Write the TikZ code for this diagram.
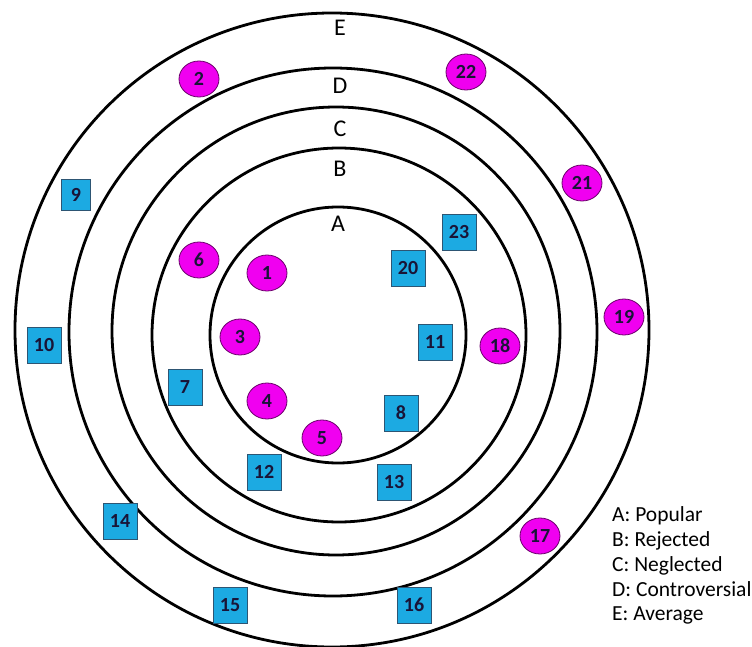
\documentclass[tikz,border=0pt]{standalone}
\usepackage{fontspec}
\setmainfont{Carlito}
\usetikzlibrary{shapes.geometric}
\definecolor{boxblue}{RGB}{28,170,226}
\definecolor{boxedge}{RGB}{45,85,115}
\definecolor{dotmag}{RGB}{240,0,240}
\definecolor{dotedge}{RGB}{105,0,105}
\definecolor{numcol}{RGB}{25,20,55}
\tikzset{
  ring/.style={circle, draw=black, line width=2.8pt, inner sep=0pt, outer sep=0pt},
  ringlabel/.style={anchor=base, font=\fontsize{24}{28}\selectfont, inner sep=0pt},
  legendtext/.style={anchor=base west, font=\fontsize{21.5}{25}\selectfont, inner sep=0pt},
  sqbox/.style={rectangle, draw=boxedge, line width=0.8pt, fill=boxblue, minimum width=34pt, minimum height=36pt, inner sep=0pt, text=numcol, font=\fontsize{20}{23}\bfseries\selectfont},
  dotell/.style={ellipse, draw=dotedge, line width=0.8pt, fill=dotmag, minimum width=40pt, minimum height=36pt, inner sep=0pt, text=numcol, font=\fontsize{20}{23}\bfseries\selectfont}
}
\begin{document}
\begin{tikzpicture}[x=1pt,y=-1pt]
\useasboundingbox (0,0) rectangle (752,647);
% rings
\node[ring, minimum size=634pt] (ringE) at (332,330) {};
\node[ring, minimum size=528pt] (ringD) at (333,332) {};
\node[ring, minimum size=448pt] (ringC) at (336,331) {};
\node[ring, minimum size=374pt] (ringB) at (339,335) {};
\node[ring, minimum size=256pt] (ringA) at (338,335) {};
% ring labels
\node[ringlabel] (labE) at (340,36) {E};
\node[ringlabel] (labD) at (340,94) {D};
\node[ringlabel] (labC) at (340,137) {C};
\node[ringlabel] (labB) at (340,177) {B};
\node[ringlabel] (labA) at (338,232) {A};
% magenta ellipses
\node[dotell] (n2) at (199,79) {2};
\node[dotell] (n22) at (466,72) {22};
\node[dotell] (n21) at (582,183) {21};
\node[dotell] (n19) at (624,317) {19};
\node[dotell] (n18) at (500,346) {18};
\node[dotell] (n17) at (540,536) {17};
\node[dotell] (n6) at (199,260) {6};
\node[dotell] (n1) at (267,273) {1};
\node[dotell] (n3) at (240,337) {3};
\node[dotell] (n4) at (267,401) {4};
\node[dotell] (n5) at (322,438) {5};
% blue squares
\node[sqbox, minimum width=29pt, minimum height=31pt] (n9) at (76,195) {9};
\node[sqbox] (n10) at (44,345) {10};
\node[sqbox] (n7) at (185,387) {7};
\node[sqbox] (n12) at (264,472) {12};
\node[sqbox] (n14) at (120,521) {14};
\node[sqbox] (n15) at (230,605) {15};
\node[sqbox] (n20) at (408,268) {20};
\node[sqbox] (n23) at (459,232) {23};
\node[sqbox] (n11) at (435,342) {11};
\node[sqbox] (n8) at (401,413) {8};
\node[sqbox] (n13) at (394,482) {13};
\node[sqbox] (n16) at (414,605) {16};
% legend
\node[legendtext] (legA) at (612,521.5) {A: Popular};
\node[legendtext] (legB) at (612,546.5) {B: Rejected};
\node[legendtext] (legC) at (612,571.5) {C: Neglected};
\node[legendtext] (legD) at (612,596) {D: Controversial};
\node[legendtext] (legE) at (612,620.5) {E: Average};
\end{tikzpicture}
\end{document}
